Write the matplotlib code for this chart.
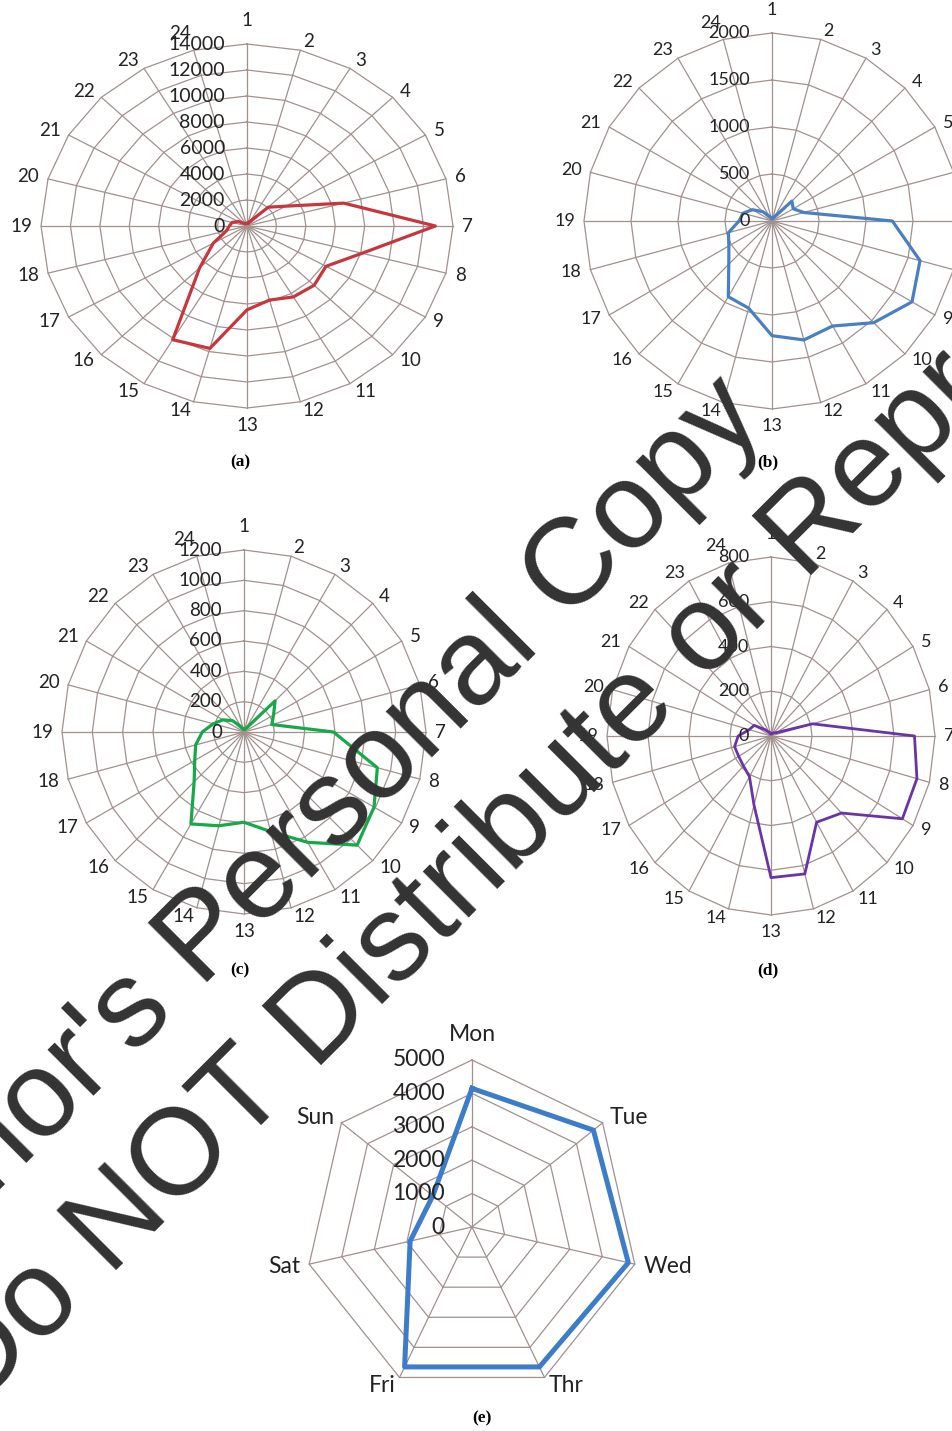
import numpy as np
import matplotlib.pyplot as plt
from matplotlib.transforms import ScaledTranslation

# hourly values (hour 1..24)
hours = [str(h) for h in range(1, 25)]

trips_a = [200, 200, 400, 2050, 3050, 6800, 12800, 8100, 6200, 6450, 6300, 5900,
           6450, 9750, 10100, 4550, 2650, 1450, 1200, 1050, 700, 300, 200, 200]
ticks_a = [0, 2000, 4000, 6000, 8000, 10000, 12000, 14000]

trips_b = [30, 30, 50, 300, 260, 350, 1280, 1630, 1720, 1530, 1290, 1310,
           1220, 960, 930, 650, 530, 480, 350, 320, 240, 140, 60, 40]
ticks_b = [0, 500, 1000, 1500, 2000]

trips_c = [20, 20, 30, 290, 225, 190, 590, 910, 990, 1055, 840, 680,
           595, 640, 700, 465, 375, 330, 275, 210, 160, 105, 40, 20]
ticks_c = [0, 200, 400, 600, 800, 1000, 1200]

trips_d = [10, 10, 15, 20, 30, 210, 700, 737, 740, 487, 445, 638,
           633, 320, 210, 190, 182, 184, 160, 110, 95, 40, 20, 15]
ticks_d = [0, 200, 400, 600, 800]

days = ['Mon', 'Tue', 'Wed', 'Thr', 'Fri', 'Sat', 'Sun']
trips_e = [4150, 4650, 4800, 4650, 4650, 1900, 1500]
ticks_e = [0, 1000, 2000, 3000, 4000, 5000]

W, H, DPI = 953, 1431, 100
GRID = '#a0918d'
FONT = ['Lato', 'DejaVu Sans']

fig = plt.figure(figsize=(W / DPI, H / DPI), dpi=DPI)


def px_box(cx, cy, rx, ry):
    # axes box in figure fraction from a centre and radii given in pixels
    return [(cx - rx) / W, 1 - (cy + ry) / H, 2 * rx / W, 2 * ry / H]


def shift(dx, dy):
    return ScaledTranslation(dx / DPI, dy / DPI, fig.dpi_scale_trans)


def radar(box, cats, values, ticks, color, lw, fs, val_fs=None, gap=9, val_off=22):
    ax = fig.add_axes(box, projection='polar')
    ax.set_aspect('auto')
    ax.set_theta_zero_location('N')
    ax.set_theta_direction(-1)
    n = len(cats)
    theta = np.linspace(0, 2 * np.pi, n, endpoint=False)
    rmax = ticks[-1]
    ring_t = np.append(theta, theta[0])

    for t in ticks[1:]:
        ax.plot(ring_t, np.full(n + 1, t), color=GRID, lw=0.9, zorder=1, clip_on=False)
    for t in theta:
        ax.plot([t, t], [0, rmax], color=GRID, lw=0.9, zorder=1, clip_on=False)
    ax.plot(ring_t, np.append(values, values[0]), color=color, lw=lw, zorder=3,
            solid_joinstyle='round', clip_on=False)

    ax.set_ylim(0, rmax)
    ax.grid(False)
    ax.set_xticks([])
    ax.set_yticks([])
    ax.spines['polar'].set_visible(False)
    ax.patch.set_alpha(0)

    for t in ticks:
        ax.text(0, t, str(t), transform=ax.transData + shift(-val_off, 0),
                ha='right', va='center', fontsize=val_fs or fs, family=FONT, color='#222222')

    for i, (t, lab) in enumerate(zip(theta, cats)):
        p0 = ax.transData.transform((t, 0))
        p1 = ax.transData.transform((t, rmax))
        u = (p1 - p0) / np.hypot(*(p1 - p0))
        ha = 'left' if u[0] > 0.15 else 'right' if u[0] < -0.15 else 'center'
        va = 'bottom' if u[1] > 0.98 else 'top' if u[1] < -0.98 else 'center'
        g = gap
        if va == 'bottom':
            g = gap + 6
        if n == 24 and i == n - 1:
            va = 'bottom'
        ax.text(t, rmax, lab, transform=ax.transData + shift(u[0] * g, u[1] * g),
                ha=ha, va=va, fontsize=fs, family=FONT, color='#222222')
    return ax


radar(px_box(247, 226, 206, 182), hours, trips_a, ticks_a, '#c8363d', 2.3, 13.5, val_fs=14)
radar(px_box(772, 221, 188, 188), hours, trips_b, ticks_b, '#4a7fc1', 2.3, 13)
radar(px_box(244, 732, 182, 182), hours, trips_c, ticks_c, '#17a84a', 2.3, 13.5)
radar(px_box(771, 736, 164, 179), hours, trips_d, ticks_d, '#6a33a6', 2.0, 13)
radar(px_box(472, 1227, 167, 167), days, trips_e, ticks_e, '#3d7cc9', 3.6, 16.5,
      gap=9, val_off=27)

for lab, (x, y) in zip(['(a)', '(b)', '(c)', '(d)', '(e)'],
                       [(240, 462), (768, 462), (240, 970), (768, 970), (482, 1418)]):
    fig.text(x / W, 1 - y / H, lab, ha='center', va='center', fontsize=12.5,
             family='Liberation Serif', weight='bold')

# watermark
fig.text(293 / W, 1 - 852 / H, "Author's Personal Copy", rotation=45, rotation_mode='anchor',
         ha='center', va='center', fontsize=88, family='Liberation Sans', color='#333333')
fig.text(579 / W, 1 - 762 / H, "Do NOT Distribute or Reproduce", rotation=45,
         rotation_mode='anchor', ha='center', va='center', fontsize=88,
         family='Liberation Sans', color='#333333')

fig.savefig('out.png', dpi=DPI)
